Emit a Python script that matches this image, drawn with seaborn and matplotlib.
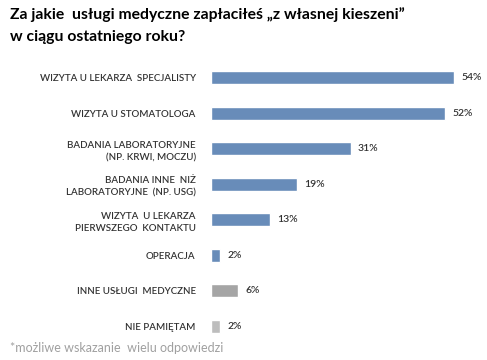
import matplotlib
matplotlib.use('Agg')
import matplotlib.pyplot as plt
import seaborn as sns
import pandas as pd

categories = ['WIZYTA U LEKARZA  SPECJALISTY', 'WIZYTA U STOMATOLOGA',
              'BADANIA LABORATORYJNE\n(NP. KRWI, MOCZU)',
              'BADANIA INNE  NIŻ\nLABORATORYJNE  (NP. USG)',
              'WIZYTA  U LEKARZA\nPIERWSZEGO  KONTAKTU',
              'OPERACJA', 'INNE USŁUGI  MEDYCZNE', 'NIE PAMIĘTAM']
values = [54, 52, 31, 19, 13, 2, 6, 2]
colors = ['#5b8ac6'] * 6 + ['#a5a5a5', '#bdbdbd']

df = pd.DataFrame({'cat': categories, 'val': values})

sns.set_style('white')
plt.rcParams['font.family'] = ['Lato', 'DejaVu Sans']

fig = plt.figure(figsize=(4.87, 3.6), dpi=100)
ax = fig.add_axes([211 / 487, 0.044, 270 / 487, 0.789])
sns.barplot(data=df, y='cat', x='val', hue='cat', palette=colors,
            legend=False, width=0.37, ax=ax, orient='h')
ax.set_xlim(0, 60)
ax.set_ylim(7.5, -0.5)
ax.set_xlabel('')
ax.set_ylabel('')
ax.set_xticks([])
ax.set_yticks(range(len(categories)))
ax.set_yticklabels(categories, fontsize=7, color='#333333', linespacing=1.5,
                   fontweight='semibold')
ax.tick_params(axis='y', length=0, pad=11)
for s in ax.spines.values():
    s.set_visible(False)

for i, v in enumerate(values):
    ax.text(v + 1.6, i, f'{v}%', va='center', ha='left', fontsize=7.5,
            color='#333333', fontweight='semibold')

fig.text(10 / 487, 1 - 15 / 360, 'Za jakie  usługi medyczne zapłaciłeś „z własnej kieszeni”',
         fontsize=11.3, fontweight='bold', va='center', ha='left', color='black')
fig.text(10 / 487, 1 - 37 / 360, 'w ciągu ostatniego roku?',
         fontsize=11.3, fontweight='bold', va='center', ha='left', color='black')
fig.text(10 / 487, 1 - 348 / 360, '*możliwe wskazanie  wielu odpowiedzi',
         fontsize=9, va='center', ha='left', color='#a0a0a0')

fig.savefig('out.png', dpi=100)
